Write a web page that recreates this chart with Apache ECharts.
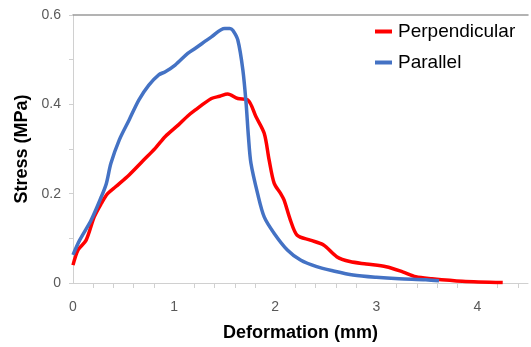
<!DOCTYPE html>
<html>
<head>
<meta charset="utf-8">
<script src="https://cdn.jsdelivr.net/npm/echarts@6/dist/echarts.min.js"></script>
<style>
  html, body { margin: 0; padding: 0; background: #fff; }
  #chart { width: 531px; height: 347px; }
</style>
</head>
<body>
<div id="chart"></div>
<script>
// deformation (mm) / stress (MPa)
const perpX = [0, 0.05, 0.13, 0.21, 0.28, 0.342, 0.424, 0.555, 0.685, 0.815, 0.913, 1.043, 1.135, 1.207, 1.369, 1.45, 1.53, 1.63, 1.728, 1.81, 1.891, 1.94, 1.99, 2.054, 2.087, 2.15, 2.217, 2.347, 2.478, 2.608, 2.738, 2.90, 3.097, 3.26, 3.39, 3.55, 3.85, 4.25];
const perpY = [0.040, 0.074, 0.096, 0.148, 0.178, 0.2, 0.216, 0.242, 0.272, 0.302, 0.328, 0.354, 0.374, 0.387, 0.413, 0.418, 0.423, 0.413, 0.41, 0.372, 0.335, 0.275, 0.223, 0.2, 0.186, 0.141, 0.107, 0.096, 0.085, 0.059, 0.048, 0.0425, 0.0365, 0.025, 0.014, 0.0096, 0.004, 0.001];

const paraX = [0, 0.066, 0.18, 0.28, 0.33, 0.375, 0.457, 0.555, 0.652, 0.75, 0.848, 0.913, 1.01, 1.135, 1.207, 1.369, 1.50, 1.55, 1.58, 1.63, 1.68, 1.712, 1.735, 1.76, 1.826, 1.891, 1.99, 2.12, 2.25, 2.41, 2.576, 2.77, 3.0, 3.227, 3.49, 3.62];
const paraY = [0.063, 0.096, 0.141, 0.193, 0.223, 0.268, 0.32, 0.365, 0.41, 0.443, 0.466, 0.473, 0.488, 0.514, 0.525, 0.551, 0.570, 0.570, 0.566, 0.544, 0.477, 0.402, 0.328, 0.268, 0.2, 0.148, 0.111, 0.074, 0.0515, 0.0365, 0.027, 0.018, 0.0128, 0.0096, 0.0075, 0.005];

const seriesNames = ['Perpendicular', 'Parallel'];
const xTicks = [0, 1, 2, 3, 4];

const zip = (xs, ys) => xs.map((x, i) => [x, ys[i]]);

const chart = echarts.init(document.getElementById('chart'));
const font = 'Liberation Sans, Arial, sans-serif';

chart.setOption({
  animation: false,
  grid: { left: 73, right: -2, top: 15, bottom: 64 },
  legend: {
    orient: 'vertical',
    left: 375, top: 22,
    padding: 0,
    icon: 'rect',
    itemWidth: 17, itemHeight: 4,
    itemGap: 12,
    textStyle: { fontFamily: font, fontSize: 19, color: '#000', padding: [0, 0, 0, 1] },
    data: seriesNames
  },
  xAxis: [{
    type: 'value',
    min: 0, max: 4.5, interval: 1,
    name: 'Deformation (mm)',
    nameLocation: 'middle',
    nameGap: 41,
    nameTextStyle: { fontFamily: font, fontSize: 18, fontWeight: 'bold', color: '#000' },
    axisLine: { lineStyle: { color: '#d0d0d0', width: 1 } },
    axisTick: { show: false },
    minorTick: { show: true, splitNumber: 5, length: 5, lineStyle: { color: '#d0d0d0' } },
    axisLabel: {
      margin: 17, fontFamily: font, fontSize: 14, color: '#595959',
      formatter: v => (xTicks.includes(v) ? String(v) : '')
    },
    splitLine: { show: false }
  }, {
    type: 'value',
    position: 'top',
    min: 0, max: 4.5,
    axisLine: { lineStyle: { color: '#9a9a9a', width: 1.5 } },
    axisTick: { show: false },
    axisLabel: { show: false },
    splitLine: { show: false }
  }],
  yAxis: {
    type: 'value',
    min: 0, max: 0.6, interval: 0.2,
    name: 'Stress (MPa)',
    nameLocation: 'middle',
    nameGap: 42,
    nameTextStyle: { fontFamily: font, fontSize: 18, fontWeight: 'bold', color: '#000' },
    axisLine: { show: true, lineStyle: { color: '#d0d0d0', width: 1 } },
    axisTick: { show: true, length: 4, lineStyle: { color: '#d0d0d0' } },
    minorTick: { show: true, splitNumber: 2, length: 4, lineStyle: { color: '#d0d0d0' } },
    axisLabel: {
      margin: 12, fontFamily: font, fontSize: 14, color: '#595959',
      formatter: v => (v === 0 ? '0' : v.toFixed(1))
    },
    splitLine: { show: false }
  },
  series: [{
    name: seriesNames[0],
    type: 'line',
    data: zip(perpX, perpY),
    showSymbol: false,
    smooth: 0.3,
    lineStyle: { color: '#ff0000', width: 3.5 },
    itemStyle: { color: '#ff0000' }
  }, {
    name: seriesNames[1],
    type: 'line',
    data: zip(paraX, paraY),
    showSymbol: false,
    smooth: 0.3,
    lineStyle: { color: '#4472c4', width: 3.5 },
    itemStyle: { color: '#4472c4' }
  }]
});
</script>
</body>
</html>
